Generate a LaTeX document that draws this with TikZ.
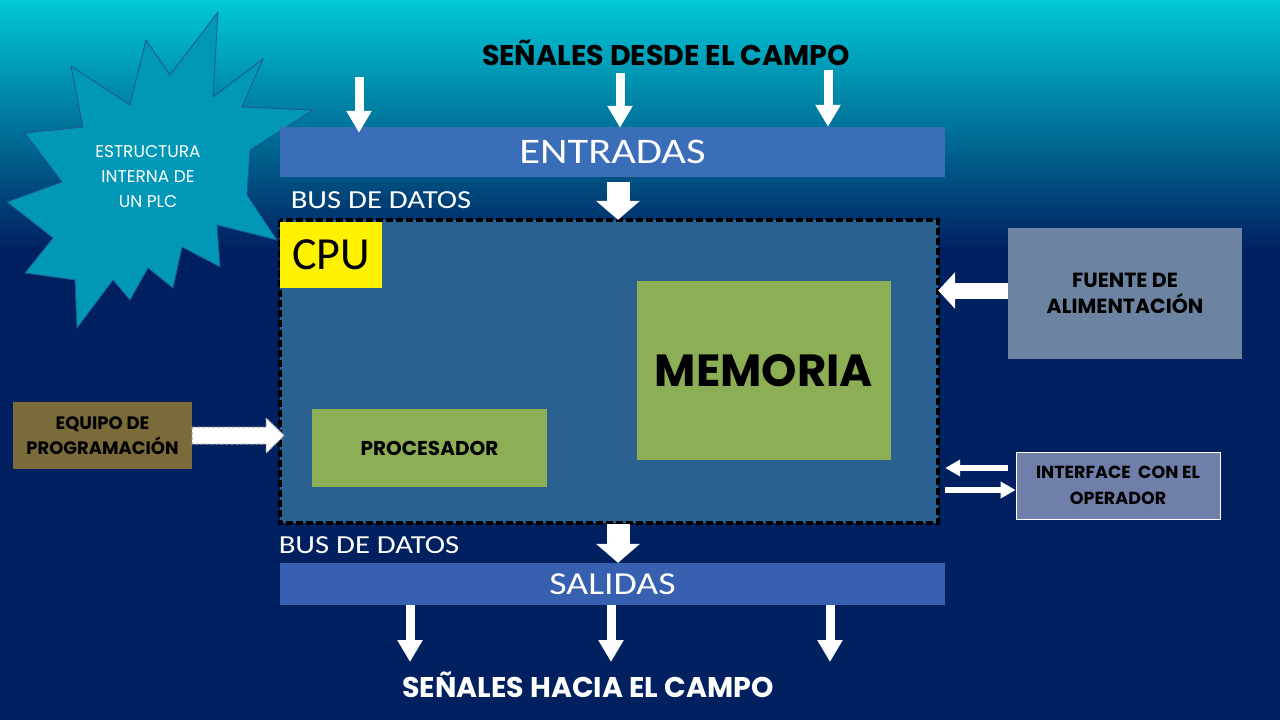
\documentclass[tikz,border=0pt]{standalone}
\usepackage{fontspec}
\setmainfont{Carlito}
\newfontfamily\widefont{Carlito}[FakeStretch=1.18]
\newfontfamily\gothic{Poppins}
\usepackage{tikz}
\usetikzlibrary{arrows.meta, positioning, calc}

\definecolor{bgtop}{RGB}{0,200,215}
\definecolor{bgnavy}{RGB}{0,32,96}
\definecolor{starfill}{RGB}{0,152,182}
\definecolor{starline}{RGB}{35,85,145}
\definecolor{inblue}{RGB}{58,110,185}
\definecolor{outblue}{RGB}{55,96,176}
\definecolor{cpublue}{RGB}{43,97,145}
\definecolor{memgreen}{RGB}{140,174,84}
\definecolor{progbrown}{RGB}{124,107,58}
\definecolor{powergray}{RGB}{108,132,162}
\definecolor{opblue}{RGB}{112,126,170}

\begin{document}
\begin{tikzpicture}[x=1pt, y=-1pt,
    bar/.style={inner sep=0pt, minimum width=665pt, text=white},
    block/.style={inner sep=0pt, align=center, font={\gothic\bfseries\fontsize{18}{25}\selectfont}},
    buslabel/.style={text=white, inner sep=0pt, font={\widefont\fontsize{26}{30}\selectfont}},
    field/.style={inner sep=0pt, font={\gothic\bfseries\fontsize{28.5}{32}\selectfont}},
    sig/.style={white, line width=9pt, -{Triangle[width=24pt,length=22pt]}},
    bus/.style={white, line width=23pt, -{Triangle[width=43pt,length=19pt]}},
    power/.style={white, line width=16pt, -{Triangle[width=36pt,length=17pt]}},
    io/.style={white, line width=6pt, -{Triangle[width=16pt,length=15pt]}},
    prog/.style={fill=white, draw=gray!70, line width=1pt, dash pattern=on 3pt off 2pt}
]
    % Background
    \useasboundingbox (0,0) rectangle (1280,720);
    \fill[top color=bgtop, bottom color=bgnavy] (0,0) rectangle (1280,250);
    \fill[bgnavy] (0,250) rectangle (1280,720);

    % Star
    \draw[fill=starfill, draw=starline, line width=0.8pt]
        (218,12) -- (213,97) -- (263,59) -- (242,107) -- (313,110) -- (250,150)
        -- (247,195) -- (277,240) -- (217,225) -- (220,267) -- (182,247)
        -- (173,288) -- (148,268) -- (130,300) -- (113,280) -- (77,328)
        -- (75,280) -- (25,273) -- (53,238) -- (7,202) -- (62,182) -- (25,133)
        -- (83,127) -- (71,66) -- (130,105) -- (146,40) -- (170,75) -- cycle;
    \node[text=white, align=center, font={\gothic\fontsize{17}{25}\selectfont}] (plc) at (148,177) {ESTRUCTURA\\INTERNA DE\\UN PLC};

    % Inputs
    \node[field] (fieldin) at (666,53) {SEÑALES DESDE EL CAMPO};
    \node[bar, fill=inblue, minimum height=50pt, font={\widefont\fontsize{36}{40}\selectfont}] (entradas) at (612.5,152) {ENTRADAS};
    \coordinate (in1) at (359,77);
    \coordinate (in2) at (620,73);
    \coordinate (in3) at (828,70);
    \draw[sig] (in1) -- ([yshift=-6pt]in1 |- entradas.north);
    \draw[sig] (in2) -- ([yshift=-1pt]in2 |- entradas.north);
    \draw[sig] (in3) -- (in3 |- entradas.north);

    % CPU
    \node[buslabel] (busin) at (381,200) {BUS DE DATOS};
    \node[fill=cpublue, minimum width=658pt, minimum height=303pt, inner sep=0pt] (cpu) at (609,371.5) {};
    \draw[black, line width=3.5pt, dash pattern=on 7pt off 3pt] (cpu.north west) rectangle (cpu.south east);
    \node[fill=yellow, minimum width=102pt, minimum height=66pt, inner sep=0pt, font={\fontsize{46}{50}\selectfont}] (cpulabel) at (331,255) {CPU};
    \node[block, fill=memgreen, minimum width=254pt, minimum height=179pt, font={\gothic\bfseries\fontsize{45}{50}\selectfont}] (memoria) at (764,370.5) {MEMORIA};
    \node[block, fill=memgreen, minimum width=235pt, minimum height=78pt, font={\gothic\bfseries\fontsize{20}{25}\selectfont}] (proc) at (429.5,448) {PROCESADOR};
    \coordinate (bi) at (618,182);
    \draw[bus] (bi) -- (bi |- cpu.north);

    % Programming unit
    \node[block, fill=progbrown, minimum width=179pt, minimum height=67pt] (equipo) at (102.5,435.5) {EQUIPO DE\\PROGRAMACIÓN};
    \draw[prog] ([yshift=8.5pt]equipo.east) -- ++(74,0) -- ++(0,-9) -- ++(18,17.5)
        -- ++(-18,17.5) -- ++(0,-9) -- ([yshift=-8.5pt]equipo.east) -- cycle;

    % Power supply
    \node[block, fill=powergray, minimum width=234pt, minimum height=131pt, font={\gothic\bfseries\fontsize{20.5}{26}\selectfont}] (fuente) at (1125,293.5) {FUENTE DE\\ALIMENTACIÓN};
    \draw[power] ([yshift=3pt]fuente.west) -- ([yshift=3pt]fuente.west -| cpu.east);

    % Operator interface
    \node[block, fill=opblue, draw=white, line width=0.8pt, minimum width=204pt, minimum height=67pt, font={\gothic\bfseries\fontsize{17.5}{26}\selectfont}] (iface) at (1118,485.5) {INTERFACE\ \ CON EL\\OPERADOR};
    \coordinate (ioa) at ([xshift=-8pt,yshift=17.5pt]iface.west);
    \coordinate (iob) at ([xshift=-8pt,yshift=-4.5pt]iface.west);
    \draw[io, shorten >=7pt] (ioa) -- (ioa -| cpu.east);
    \draw[io, shorten <=7pt] (iob -| cpu.east) -- ([xshift=8pt]iob);

    % Outputs
    \node[buslabel] (busout) at (369,545) {BUS DE DATOS};
    \node[bar, fill=outblue, minimum height=42pt, font={\widefont\fontsize{32}{36}\selectfont}] (salidas) at (612.5,584) {SALIDAS};
    \coordinate (bo) at (618,524);
    \draw[bus] (bo) -- (bo |- salidas.north);
    \coordinate (out1) at (410,662);
    \coordinate (out2) at (611,662);
    \coordinate (out3) at (830,662);
    \draw[sig] (out1 |- salidas.south) -- (out1);
    \draw[sig] (out2 |- salidas.south) -- (out2);
    \draw[sig] (out3 |- salidas.south) -- (out3);
    \node[field, text=white] (fieldout) at (588,685) {SEÑALES HACIA EL CAMPO};
\end{tikzpicture}
\end{document}
